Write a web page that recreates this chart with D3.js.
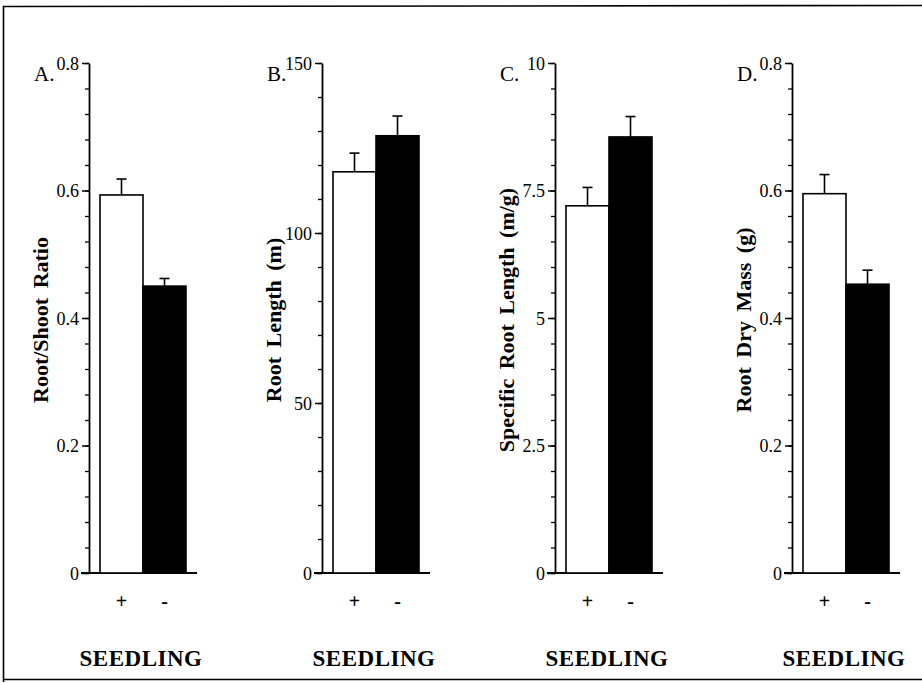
<!DOCTYPE html>
<html><head><meta charset="utf-8">
<script src="https://cdn.jsdelivr.net/npm/d3@7"></script>
<style>body{margin:0;background:#fff}svg{display:block}text{font-family:"Liberation Serif","DejaVu Serif",serif;fill:#000}</style>
</head><body><svg id="c" width="922" height="683"></svg>
<script>
const categories = ["+", "-"];
const panelLetters = ["A.", "B.", "C.", "D."];
const yTitles = ["Root/Shoot Ratio", "Root Length (m)", "Specific Root Length (m/g)", "Root Dry Mass (g)"];
const xTitle = "SEEDLING";
const rootShootValues = [0.593, 0.450];
const rootShootErrors = [0.025, 0.012];
const rootLengthValues = [118.0, 128.6];
const rootLengthErrors = [5.5, 5.8];
const specificRootLengthValues = [7.2, 8.55];
const specificRootLengthErrors = [0.36, 0.40];
const rootDryMassValues = [0.595, 0.453];
const rootDryMassErrors = [0.030, 0.022];
const yMaxes = [0.8, 150, 10, 0.8];
const majorTicks = [[0, 0.2, 0.4, 0.6, 0.8], [0, 50, 100, 150], [0, 2.5, 5, 7.5, 10], [0, 0.2, 0.4, 0.6, 0.8]];
const majorTickLabels = [["0", "0.2", "0.4", "0.6", "0.8"], ["0", "50", "100", "150"], ["0", "2.5", "5", "7.5", "10"], ["0", "0.2", "0.4", "0.6", "0.8"]];
const minorStep = [0.04, 10, 0.5, 0.04];

const values = [rootShootValues, rootLengthValues, specificRootLengthValues, rootDryMassValues];
const errors = [rootShootErrors, rootLengthErrors, specificRootLengthErrors, rootDryMassErrors];
const axisX = [89, 322, 555, 792];
const plotTop = 63, plotBottom = 573;
const FONT = "'Liberation Serif','DejaVu Serif',serif";

const svg = d3.select("#c");
// outer frame
svg.append("path").attr("d", "M3.5,682 L3.5,6.5 L922,5.5").attr("fill", "none").attr("stroke", "#000").attr("stroke-width", 1.6);
svg.append("line").attr("x1", 3).attr("x2", 922).attr("y1", 679.5).attr("y2", 679.5).attr("stroke", "#000").attr("stroke-width", 1.6);

values.forEach((vals, i) => {
  const ax = axisX[i];
  const g = svg.append("g").attr("font-family", FONT);
  const y = d3.scaleLinear().domain([0, yMaxes[i]]).range([plotBottom, plotTop]);
  const x = d3.scaleBand().domain(categories).range([ax + 11, ax + 97]).padding(0);

  // minor ticks
  const nMinor = Math.round(yMaxes[i] / minorStep[i]);
  const minor = d3.range(nMinor + 1).map(k => k * minorStep[i]);
  g.append("g").attr("transform", `translate(${ax},0)`)
    .call(d3.axisLeft(y).tickValues(minor).tickSize(4).tickFormat(""))
    .call(s => s.select(".domain").remove())
    .selectAll("line").attr("stroke-width", 1.3);

  // major axis
  const yAxis = g.append("g").attr("transform", `translate(${ax},0)`)
    .call(d3.axisLeft(y).tickValues(majorTicks[i]).tickSize(7).tickSizeOuter(0).tickPadding(3)
      .tickFormat((d, k) => majorTickLabels[i][k]));
  yAxis.attr("font-family", FONT).attr("font-size", 18);
  yAxis.select(".domain").attr("stroke-width", 1.8);
  yAxis.selectAll(".tick line").attr("stroke-width", 1.5);
  yAxis.selectAll(".tick text").style("font-family", FONT).style("font-size", "18px").attr("dy", "0.36em");

  // x axis baseline
  g.append("line").attr("x1", ax - 8).attr("x2", ax + 108).attr("y1", y(0)).attr("y2", y(0))
    .attr("stroke", "#000").attr("stroke-width", 1.8);

  // bars
  g.selectAll("rect.bar").data(vals).join("rect")
    .attr("x", (d, k) => x(categories[k]))
    .attr("y", d => y(d))
    .attr("width", x.bandwidth())
    .attr("height", d => y(0) - y(d))
    .attr("fill", (d, k) => k === 0 ? "#fff" : "#000")
    .attr("stroke", "#000").attr("stroke-width", 1.6);

  // error bars
  vals.forEach((v, k) => {
    const cx = x(categories[k]) + x.bandwidth() / 2;
    const e = errors[i][k];
    g.append("line").attr("x1", cx).attr("x2", cx).attr("y1", y(v)).attr("y2", y(v + e))
      .attr("stroke", "#000").attr("stroke-width", 1.6);
    g.append("line").attr("x1", cx - 5).attr("x2", cx + 5).attr("y1", y(v + e)).attr("y2", y(v + e))
      .attr("stroke", "#000").attr("stroke-width", 1.6);
  });

  // category labels
  categories.forEach((c, k) => {
    g.append("text").attr("x", x(c) + x.bandwidth() / 2).attr("y", 608)
      .attr("text-anchor", "middle").style("font-size", "20px").style("font-weight", "bold").text(c);
  });

  // x title
  g.append("text").attr("x", ax + 52).attr("y", 666).attr("text-anchor", "middle")
    .style("font-size", "23px").style("font-weight", "bold").style("letter-spacing", "0.5px").text(xTitle);

  // panel letter
  g.append("text").attr("x", ax - 55).attr("y", 81).style("font-size", "21px").text(panelLetters[i]);

  // y title
  g.append("text").attr("transform", `translate(${ax - 41},320) rotate(-90)`)
    .attr("text-anchor", "middle").style("font-size", "22px").style("font-weight", "bold")
    .style("word-spacing", "4px").text(yTitles[i]);
});
</script></body></html>
